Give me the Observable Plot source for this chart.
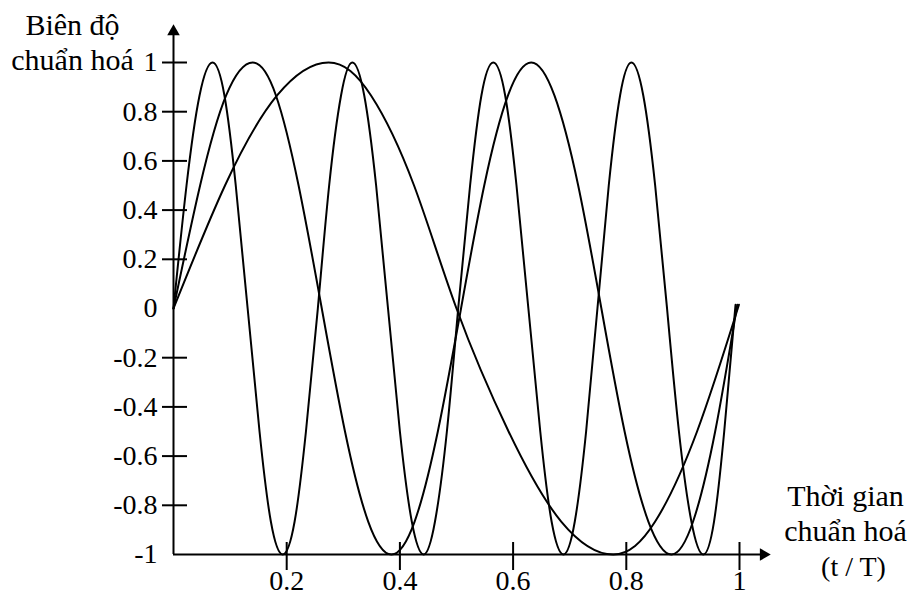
<!DOCTYPE html>
<html>
<head>
<meta charset="utf-8">
<script src="https://cdn.jsdelivr.net/npm/d3@7"></script>
<script src="https://cdn.jsdelivr.net/npm/@observablehq/plot@0.6"></script>
<style>
  html, body { margin: 0; padding: 0; background: #fff; }
</style>
</head>
<body>
<div id="chart"></div>
<script>
// Normalized amplitude vs normalized time (t / T)
const wave1 = [[0,0],[0.091,0.5],[0.183,0.866],[0.274,1],[0.349,0.866],[0.425,0.5],[0.500,0],
  [0.592,-0.5],[0.685,-0.866],[0.777,-1],[0.851,-0.866],[0.925,-0.5],[0.999,0.015]];

const wave2 = [[0,0],[0.047,0.5],[0.093,0.866],[0.140,1],[0.181,0.866],[0.221,0.5],[0.262,0],
  [0.303,-0.5],[0.344,-0.866],[0.385,-1],[0.426,-0.866],[0.467,-0.5],[0.508,0],
  [0.549,0.5],[0.591,0.866],[0.632,1],[0.673,0.866],[0.715,0.5],[0.756,0],
  [0.797,-0.5],[0.839,-0.866],[0.880,-1],[0.918,-0.866],[0.957,-0.5],[0.996,0.015]];

const wave3 = [[0,0],[0.023,0.5],[0.046,0.866],[0.069,1],[0.090,0.866],[0.110,0.5],[0.131,0],
  [0.152,-0.5],[0.172,-0.866],[0.193,-1],[0.214,-0.866],[0.234,-0.5],[0.255,0],
  [0.275,0.5],[0.296,0.866],[0.316,1],[0.337,0.866],[0.358,0.5],[0.379,0],
  [0.400,-0.5],[0.421,-0.866],[0.442,-1],[0.462,-0.866],[0.483,-0.5],[0.503,0],
  [0.524,0.5],[0.544,0.866],[0.565,1],[0.586,0.866],[0.606,0.5],[0.627,0],
  [0.648,-0.5],[0.668,-0.866],[0.689,-1],[0.709,-0.866],[0.729,-0.5],[0.749,0],
  [0.769,0.5],[0.789,0.866],[0.809,1],[0.830,0.866],[0.851,0.5],[0.872,0],
  [0.893,-0.5],[0.915,-0.866],[0.936,-1],[0.955,-0.866],[0.973,-0.5],[0.993,0.015]];

const yTicks = [1, 0.8, 0.6, 0.4, 0.2, -0.2, -0.4, -0.6, -0.8];
const yLabels = [1, 0.8, 0.6, 0.4, 0.2, 0, -0.2, -0.4, -0.6, -0.8, -1];
const xTicks = [0.2, 0.4, 0.6, 0.8, 1];
const xLabels = ["0.2", "0.4", "0.6", "0.8", "1"];
const yTitle = "Biên độ\nchuẩn hoá";
const xTitle = "Thời gian\nchuẩn hoá";
const xUnit = "(t / T)";

const rows = [
  ...wave1.map(([t, v]) => ({series: "w1", t, v})),
  ...wave2.map(([t, v]) => ({series: "w2", t, v})),
  ...wave3.map(([t, v]) => ({series: "w3", t, v}))
];

const chart = Plot.plot({
  width: 909,
  height: 595,
  marginLeft: 173,
  marginRight: 170,
  marginTop: 62,
  marginBottom: 41,
  x: {domain: [0, 1], axis: null},
  y: {domain: [-1, 1], axis: null},
  style: {fontFamily: "'Liberation Serif', 'Times New Roman', serif", background: "#fff", color: "#000"},
  marks: [
    // axes with arrowheads
    Plot.ruleX([0], {strokeWidth: 2, stroke: "#000", insetTop: -28}),
    Plot.ruleY([-1], {strokeWidth: 2, stroke: "#000", insetRight: -24}),
    Plot.dot([0], {x: d => d, frameAnchor: "top", dy: -31, symbol: "triangle2", r: 6, fill: "#000"}),
    Plot.dot([-1], {y: d => d, frameAnchor: "right", dx: 24, rotate: 90, symbol: "triangle2", r: 6, fill: "#000"}),
    // tick marks crossing the axes
    Plot.ruleY(yTicks, {y: d => d, x1: 0, x2: 0, insetLeft: -11, insetRight: -14, strokeWidth: 2, stroke: "#000"}),
    Plot.ruleX(xTicks, {x: d => d, y1: -1, y2: -1, insetTop: -12, insetBottom: -16, strokeWidth: 2, stroke: "#000"}),
    // tick labels
    Plot.text(yLabels, {x: 0, y: d => d, text: d => String(d), textAnchor: "end", dx: -16, fontSize: 28, fill: "#000"}),
    Plot.text(xTicks, {x: d => d, y: -1, text: (d, i) => xLabels[i], lineAnchor: "bottom", dy: 35, fontSize: 28, fill: "#000"}),
    // axis titles
    Plot.text([yTitle], {frameAnchor: "top-left", text: d => d, textAnchor: "middle", dx: -101, dy: 7, lineAnchor: "bottom", lineHeight: 35 / 30, fontSize: 30, fill: "#000"}),
    Plot.text([xTitle], {frameAnchor: "bottom-right", text: d => d, textAnchor: "middle", dx: 106, dy: -14, lineAnchor: "bottom", lineHeight: 35 / 30, fontSize: 30, fill: "#000"}),
    Plot.text([xUnit], {frameAnchor: "bottom-right", text: d => d, textAnchor: "middle", dx: 114, dy: 21, lineAnchor: "bottom", fontSize: 28, fill: "#000"}),
    // waves
    Plot.line(rows, {x: "t", y: "v", z: "series", curve: "natural", stroke: "#000", strokeWidth: 2})
  ]
});
document.getElementById("chart").appendChild(chart);
</script>
</body>
</html>
